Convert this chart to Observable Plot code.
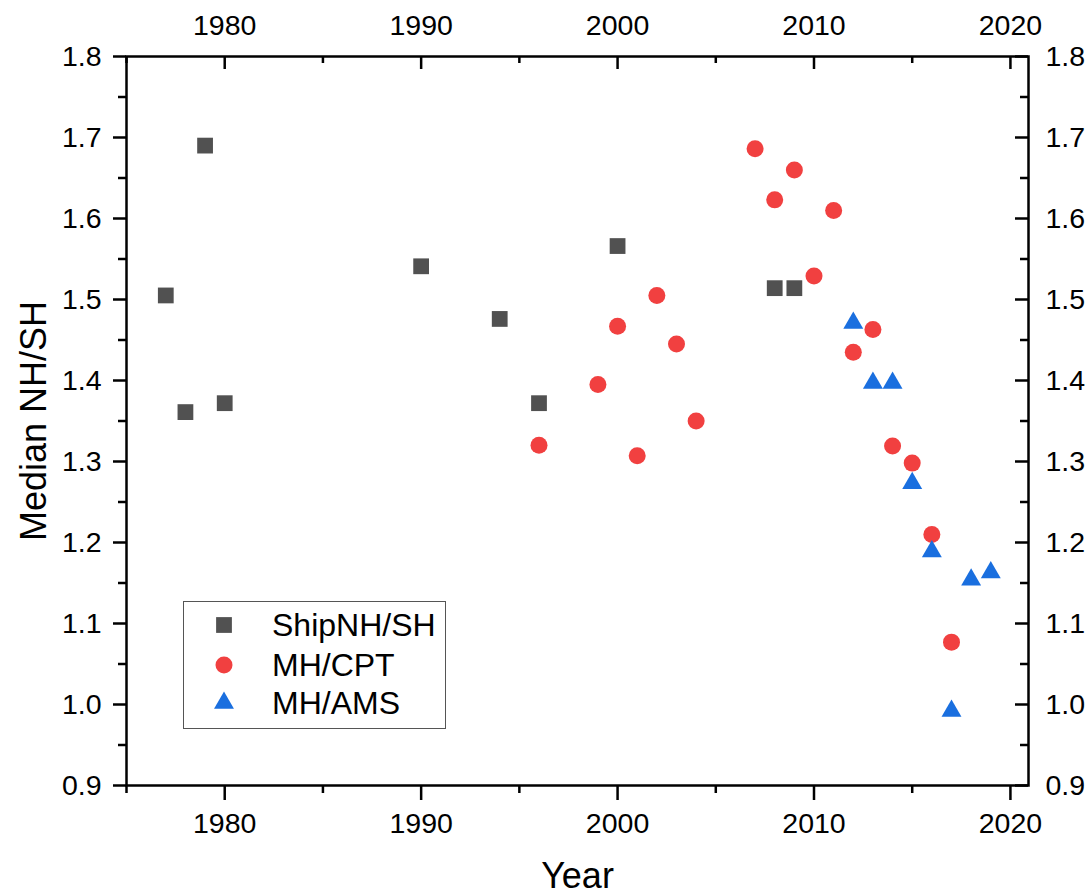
<!DOCTYPE html>
<html>
<head>
<meta charset="utf-8">
<script src="https://cdn.jsdelivr.net/npm/d3@7"></script>
<script src="https://cdn.jsdelivr.net/npm/@observablehq/plot@0.6"></script>
<style>
  body { margin: 0; background: #fff; }
  #wrap { position: relative; width: 1092px; height: 893px; font-family: "Liberation Sans", Arial, sans-serif; }
  #wrap svg g[aria-label="y-axis label"], #wrap svg g[aria-label="x-axis label"] { font-size: 36px; }
  #legend { position: absolute; left: 183px; top: 601px; width: 263px; height: 128px; border: 1.5px solid #555; box-sizing: border-box; background: #fff; }
  .row { position: absolute; left: 0; height: 40px; display: flex; align-items: center; font-size: 32px; color: #000; white-space: nowrap; }
  .row svg { position: absolute; left: 28px; top: 8px; }
  .row span { position: absolute; left: 88px; }
</style>
</head>
<body>
<div id="wrap"></div>
<script>
// ---- data ----
const shipYears  = [1977, 1978, 1979, 1980, 1990, 1994, 1996, 2000, 2008, 2009];
const shipValues = [1.505, 1.361, 1.690, 1.372, 1.541, 1.476, 1.372, 1.566, 1.514, 1.514];

const cptYears  = [1996, 1999, 2000, 2001, 2002, 2003, 2004, 2007, 2008, 2009, 2010, 2011, 2012, 2013, 2014, 2015, 2016, 2017];
const cptValues = [1.320, 1.395, 1.467, 1.307, 1.505, 1.445, 1.350, 1.686, 1.623, 1.660, 1.529, 1.610, 1.435, 1.463, 1.319, 1.298, 1.210, 1.077];

const amsYears  = [2012, 2013, 2014, 2015, 2016, 2017, 2018, 2019];
const amsValues = [1.471, 1.397, 1.397, 1.273, 1.189, 0.992, 1.154, 1.163];

const seriesNames = ["ShipNH/SH", "MH/CPT", "MH/AMS"];
const seriesColors = ["#515151", "#F14040", "#1A6FDF"];

const xMajor = [1980, 1990, 2000, 2010, 2020];
const xMinor = [1975, 1985, 1995, 2005, 2015];
const yMajor = [0.9, 1.0, 1.1, 1.2, 1.3, 1.4, 1.5, 1.6, 1.7, 1.8];
const yMinor = [0.95, 1.05, 1.15, 1.25, 1.35, 1.45, 1.55, 1.65, 1.75];

const xLabel = "Year";
const yLabel = "Median NH/SH";

// ---- build tables ----
const ship = shipYears.map((y, i) => ({year: y, value: shipValues[i]}));
const cpt = cptYears.map((y, i) => ({year: y, value: cptValues[i]}));
const ams = amsYears.map((y, i) => ({year: y, value: amsValues[i]}));

const W = 1092, H = 893;
const mT = 56, mR = 64, mB = 108, mL = 126;
const plotW = W - mL - mR, plotH = H - mT - mB;
const sw = 2.5;
const fs = 28.5;
const fmtY = d3.format(".1f");
const fmtX = d => String(d);
const symSquare = d3.symbolSquare, symCircle = d3.symbolCircle, symTri = d3.symbolTriangle;
const rSquare = 8.9, rCircle = 8.5, rTri = 7.4;

const chart = Plot.plot({
  width: W, height: H,
  marginTop: mT, marginRight: mR, marginBottom: mB, marginLeft: mL,
  style: {fontFamily: '"Liberation Sans", Arial, sans-serif', fontSize: fs + "px", color: "#000", background: "#fff", overflow: "visible"},
  x: {domain: [1975, 2020.92]},
  y: {domain: [0.9, 1.8]},
  marks: [
    // bottom axis (outward ticks)
    Plot.axisX(xMajor, {anchor: "bottom", tickSize: 15, tickPadding: 12, strokeWidth: sw, tickFormat: fmtX, fontSize: fs,
      label: xLabel, labelAnchor: "center", labelOffset: 102, labelArrow: "none"}),
    Plot.axisX(xMinor, {anchor: "bottom", tickSize: 8, strokeWidth: sw, tickFormat: () => "", label: null}),
    // top axis (inward ticks)
    Plot.axisX(xMajor, {anchor: "top", tickSize: 0, tickPadding: 22, tickFormat: fmtX, fontSize: fs, label: null}),
    Plot.tickX(xMajor, {x: d => d, insetBottom: plotH - 13, stroke: "#000", strokeWidth: sw}),
    Plot.tickX(xMinor, {x: d => d, insetBottom: plotH - 7, stroke: "#000", strokeWidth: sw}),
    // left axis (outward ticks)
    Plot.axisY(yMajor, {anchor: "left", tickSize: 13, tickPadding: 12, strokeWidth: sw, tickFormat: fmtY, fontSize: fs,
      label: yLabel, labelAnchor: "center", labelOffset: 106, labelArrow: "none"}),
    Plot.axisY(yMinor, {anchor: "left", tickSize: 8, strokeWidth: sw, tickFormat: () => "", label: null}),
    // right axis (inward ticks)
    Plot.axisY(yMajor, {anchor: "right", tickSize: 0, tickPadding: 17, tickFormat: fmtY, fontSize: fs, label: null}),
    Plot.tickY(yMajor, {y: d => d, insetLeft: plotW - 13, stroke: "#000", strokeWidth: sw}),
    Plot.tickY(yMinor, {y: d => d, insetLeft: plotW - 8, stroke: "#000", strokeWidth: sw}),
    Plot.frame({stroke: "#000", strokeWidth: sw}),
    // data
    Plot.dot(ship, {x: "year", y: "value", symbol: symSquare, r: rSquare, fill: seriesColors[0]}),
    Plot.dot(cpt, {x: "year", y: "value", symbol: symCircle, r: rCircle, fill: seriesColors[1]}),
    Plot.dot(ams, {x: "year", y: "value", symbol: symTri, r: rTri, fill: seriesColors[2]})
  ]
});

const wrap = document.getElementById("wrap");
wrap.appendChild(chart);

// ---- legend ----
const legend = document.createElement("div");
legend.id = "legend";
const syms = [[symSquare, rSquare], [symCircle, rCircle], [symTri, rTri]];
const rowTops = [3, 43, 81];
seriesNames.forEach((name, i) => {
  const row = document.createElement("div");
  row.className = "row";
  row.style.top = rowTops[i] + "px";
  const s = d3.create("svg").attr("width", 24).attr("height", 24);
  s.append("path")
    .attr("transform", "translate(12,12)")
    .attr("d", d3.symbol(syms[i][0], Math.PI * syms[i][1] * syms[i][1])())
    .attr("fill", seriesColors[i]);
  row.appendChild(s.node());
  const t = document.createElement("span");
  t.textContent = name;
  row.appendChild(t);
  legend.appendChild(row);
});
wrap.appendChild(legend);
</script>
</body>
</html>
